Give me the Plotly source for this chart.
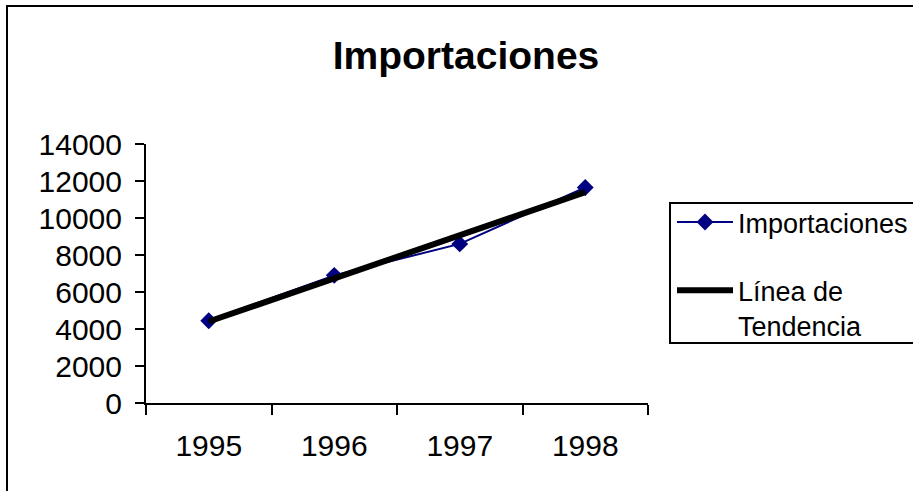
import numpy as np
import plotly.graph_objects as go

# Yearly imports
years = ["1995", "1996", "1997", "1998"]
importaciones = [4450, 6900, 8600, 11650]

# Linear trend fitted over the yearly series
idx = np.arange(1, len(years) + 1)
slope, intercept = np.polyfit(idx, importaciones, 1)
tendencia = slope * idx + intercept

y_ticks = [0, 2000, 4000, 6000, 8000, 10000, 12000, 14000]

FONT = "Arial, Liberation Sans, sans-serif"

# plot area in pixels
W, H = 913, 491
L, R, T, B = 146, 265, 144, 88
pw, ph = W - L - R, H - T - B


def px_x(x):
    return (x - L) / pw


def px_y(y):
    return (H - B - y) / ph


fig = go.Figure()
fig.add_trace(go.Scatter(
    x=years, y=importaciones, name="Importaciones", mode="lines+markers",
    line=dict(color="#000080", width=2),
    marker=dict(symbol="diamond", size=13, color="#000080"),
    legendgroup="a",
))
fig.add_trace(go.Scatter(
    x=years, y=tendencia, name="Línea de<br>Tendencia", mode="lines",
    line=dict(color="black", width=6),
    legendgroup="b",
))

fig.update_layout(
    width=W, height=H,
    margin=dict(l=L, r=R, t=T, b=B, autoexpand=False),
    paper_bgcolor="white", plot_bgcolor="white",
    font=dict(family=FONT, color="black"),
    title=dict(text="<b>Importaciones</b>", x=466 / W, xanchor="center",
               y=1 - 55 / H, yanchor="middle",
               font=dict(size=39, family=FONT, color="black")),
    xaxis=dict(
        type="category", range=[-0.5, 3.5], tickson="boundaries",
        showline=True, linecolor="black", linewidth=2,
        ticks="outside", ticklen=10, tickwidth=2, tickcolor="black",
        tickfont=dict(size=30, family=FONT, color="black"),
        ticklabelstandoff=15,
        showgrid=False, zeroline=False, fixedrange=True,
    ),
    yaxis=dict(
        range=[0, 14000], tickvals=y_ticks, ticktext=[str(v) for v in y_ticks],
        showline=True, linecolor="black", linewidth=2,
        ticks="outside", ticklen=9, tickwidth=2, tickcolor="black",
        tickfont=dict(size=30, family=FONT, color="black"),
        ticklabelstandoff=7,
        showgrid=False, zeroline=False, fixedrange=True,
    ),
    legend=dict(
        x=px_x(672), xanchor="left", y=px_y(198), yanchor="top",
        borderwidth=0, bgcolor="rgba(0,0,0,0)",
        font=dict(size=27, family=FONT, color="black"),
        valign="top", tracegroupgap=30, itemwidth=56,
        traceorder="grouped",
    ),
    shapes=[
        # chart frame
        dict(type="rect", xref="paper", yref="paper",
             x0=px_x(7), x1=px_x(940), y0=px_y(520), y1=px_y(6),
             line=dict(color="black", width=2), fillcolor="rgba(0,0,0,0)",
             layer="below"),
        # legend frame
        dict(type="rect", xref="paper", yref="paper",
             x0=px_x(670), x1=px_x(940), y0=px_y(343), y1=px_y(203),
             line=dict(color="black", width=2), fillcolor="white",
             layer="below"),
    ],
)

fig.write_html("out.html")
